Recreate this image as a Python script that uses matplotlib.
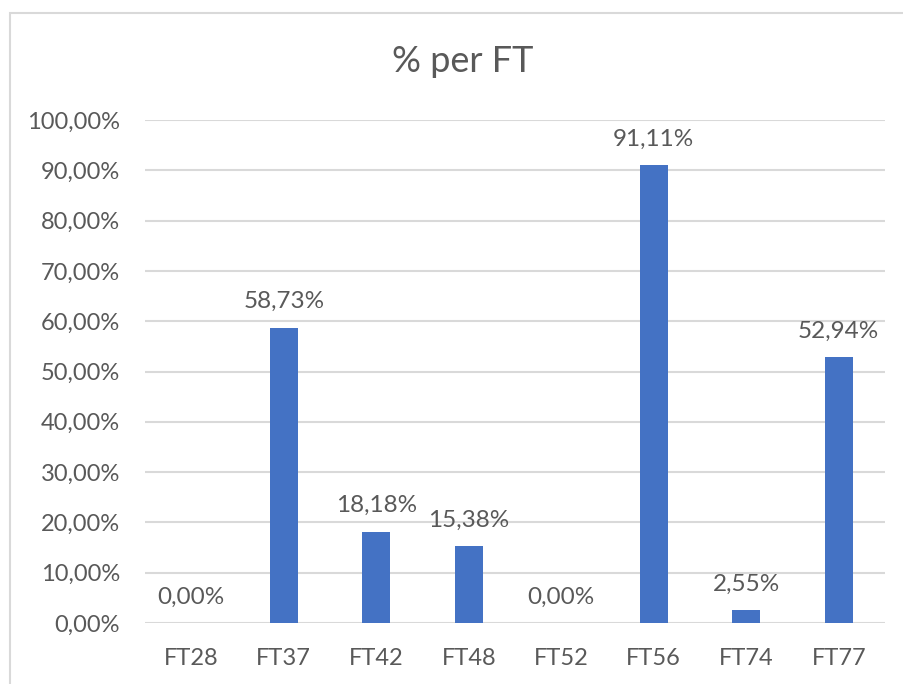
import matplotlib.pyplot as plt
from matplotlib.patches import Rectangle

categorias = ['FT28', 'FT37', 'FT42', 'FT48', 'FT52', 'FT56', 'FT74', 'FT77']
valores = [0.00, 58.73, 18.18, 15.38, 0.00, 91.11, 2.55, 52.94]
ticks_y = [0, 10, 20, 30, 40, 50, 60, 70, 80, 90, 100]

cinza = '#595959'
azul = '#4472c4'
plt.rcParams['font.family'] = ['Lato', 'DejaVu Sans']

fig = plt.figure(figsize=(9.04, 6.84), dpi=100)
# moldura do grafico
fig.patches.append(Rectangle((10 / 904, -0.01), 1.0, (684 - 13) / 684 + 0.01,
                             transform=fig.transFigure, fill=False,
                             edgecolor='#d9d9d9', linewidth=1.5))

ax = fig.add_axes([145 / 904, 61 / 684, 740 / 904, 503 / 684])
x = range(len(categorias))
barras = ax.bar(x, valores, width=0.3, color=azul, zorder=3)

for xi, v in zip(x, valores):
    rotulo = f'{v:.2f}%'.replace('.', ',')
    ax.annotate(rotulo, (xi, v), xytext=(0, 11), textcoords='offset points',
                ha='center', va='bottom', fontsize=17.5, color=cinza)

ax.set_xlim(-0.5, len(categorias) - 0.5)
ax.set_ylim(0, 100)
ax.set_yticks(ticks_y)
ax.set_yticklabels([f'{t},00%' for t in ticks_y])
ax.set_xticks(list(x))
ax.set_xticklabels(categorias)
ax.tick_params(axis='both', length=0, labelsize=17, colors=cinza)
ax.tick_params(axis='y', pad=18)
ax.tick_params(axis='x', pad=18)
ax.grid(axis='y', color='#d9d9d9', linewidth=1.5, zorder=0)
for s in ax.spines.values():
    s.set_visible(False)

fig.text(463 / 904, 1 - 62 / 684, '% per FT', ha='center', va='center',
         fontsize=26, color=cinza)

fig.savefig('out.png', dpi=100)
